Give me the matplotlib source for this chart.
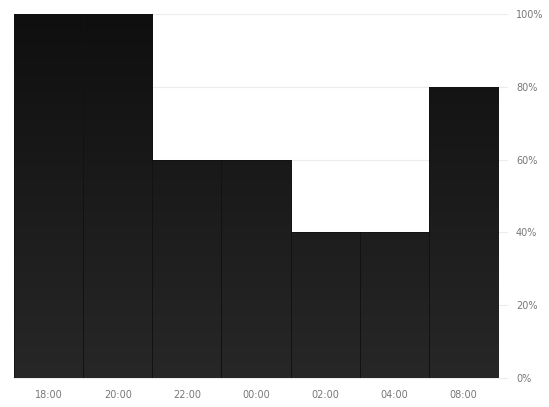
import numpy as np
import matplotlib.pyplot as plt
from matplotlib.colors import LinearSegmentedColormap

hours = ['18:00', '20:00', '22:00', '00:00', '02:00', '04:00', '08:00']
values = [100, 100, 60, 60, 40, 40, 80]
yticks = [0, 20, 40, 60, 80, 100]

fig = plt.figure(figsize=(5.49, 4.07), dpi=100)
ax = fig.add_axes([14 / 549, 29 / 407, 484 / 549, 364 / 407])

x = np.arange(len(hours))
bars = ax.bar(x, values, width=1.0, color='#1a1a1a', edgecolor='#141414',
              linewidth=0.6, zorder=2)

# vertical gradient, dark at top, a bit lighter at bottom
grad = np.linspace(0, 1, 256).reshape(-1, 1)
cmap = LinearSegmentedColormap.from_list('g', ['#272727', '#0f0f0f'])
for b in bars:
    im = ax.imshow(grad, cmap=cmap, aspect='auto', origin='lower',
                   extent=[b.get_x(), b.get_x() + b.get_width(), 0, 100],
                   zorder=2.5)
    im.set_clip_path(b)
    ax.bar(b.get_x() + b.get_width() / 2, b.get_height(), width=1.0,
           facecolor='none', edgecolor='#121212', linewidth=0.6, zorder=3)

for v in yticks:
    ax.axhline(v, xmin=0, xmax=1.018, color='#ececec', linewidth=0.8,
               zorder=1, clip_on=False)

ax.set_xlim(-0.5, len(hours) - 0.5)
ax.set_ylim(0, 100)
ax.set_xticks(x)
ax.set_xticklabels(hours)
ax.set_yticks(yticks)
ax.set_yticklabels([f'{v}%' for v in yticks])
ax.yaxis.tick_right()
ax.tick_params(axis='both', length=0, labelsize=7, labelcolor='#777777')
ax.tick_params(axis='y', pad=13)
ax.tick_params(axis='x', pad=9)
for s in ax.spines.values():
    s.set_visible(False)

fig.savefig('out.png', dpi=100)
